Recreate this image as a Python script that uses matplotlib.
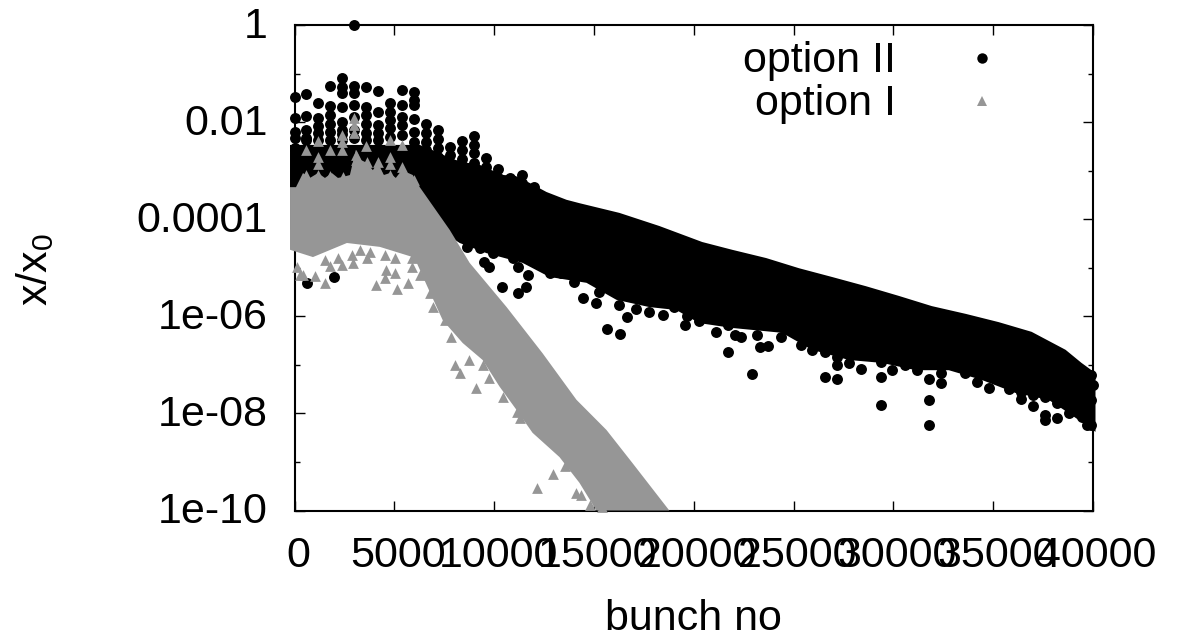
# plot.py
# Two options of x/x0 against bunch number, log scale, gnuplot look.
# The solid parts of each cloud are drawn as a filled outline,
# the points that stand out are drawn one by one.

import numpy as np
import matplotlib
matplotlib.use("Agg")
import matplotlib.pyplot as plt
from matplotlib.transforms import ScaledTranslation

plt.rcParams["font.family"] = ["Liberation Sans", "DejaVu Sans"]
plt.rcParams["mathtext.fontset"] = "custom"
plt.rcParams["mathtext.rm"] = "Liberation Sans"

# All log values are log10(x/x0)

# option II, outline of the solid cloud
black_upper_x = [-225, 6275, 6875, 7475, 8075, 8675, 9275, 9875, 10475, 11075, 11675, 12625, 13625, 14275,
                 16275, 18275, 20425, 21925, 23625, 25275, 26925, 28625, 30275, 31925, 33625, 35275, 36925,
                 38625, 39425, 40125]
black_upper_log = [-2.47, -2.47, -2.57, -2.68, -2.78, -2.84, -2.88, -2.99, -3.09, -3.11, -3.23, -3.44, -3.60, -3.67,
                   -3.87, -4.14, -4.47, -4.63, -4.80, -5.01, -5.19, -5.38, -5.58, -5.79, -5.95, -6.12, -6.32,
                   -6.69, -6.96, -7.17]
black_lower_x = [-225, 7275, 8275, 9625, 11425, 12775, 14625, 16125, 17775, 19125, 20275, 21925, 24425, 25925,
                 27775, 29425, 31125, 32775, 34425, 36125, 37775, 38775, 40125]
black_lower_log = [-4.22, -4.22, -4.49, -4.70, -4.90, -5.19, -5.31, -5.66, -5.81, -5.87, -6.14, -6.24, -6.34, -6.69,
                   -6.90, -6.96, -7.11, -7.11, -7.31, -7.58, -7.72, -7.99, -8.38]

# option II, single points above the cloud
black_top_x = [0, 0, 0, 0, 0, 600, 600, 600, 600, 600, 1200, 1200, 1200, 1200, 1200,
               1800, 1800, 1800, 1800, 1800, 1800, 2400, 2400, 2400, 2400, 2400, 2400, 2400, 2400,
               3000, 3000, 3000, 3000, 3000, 3000, 3000, 3600, 3600, 3600, 3600, 3600, 3600,
               4200, 4200, 4200, 4200, 4200, 4800, 4800, 4800, 4800, 4800,
               5400, 5400, 5400, 5400, 5400, 6000, 6000, 6000, 6000, 6000, 6000,
               6600, 6600, 6600, 6600, 6600, 7200, 7200, 7200, 7200, 7200,
               7800, 7800, 7800, 7800, 8400, 8400, 8400, 8400,
               9000, 9000, 9000, 9000, 9000, 9600, 9600, 9600,
               10200, 10200, 10800, 10800, 11400, 11400, 12000, 12000]
black_top_log = [-1.49, -1.92, -2.20, -2.33, -2.54, -1.42, -1.87, -2.16, -2.33, -2.37, -1.61, -1.92, -2.09, -2.22, -2.37,
                 -1.26, -1.67, -1.85, -2.03, -2.20, -2.37, -1.10, -1.27, -1.41, -1.68, -1.99, -2.16, -2.25, -2.37,
                 0.0, -1.26, -1.41, -1.65, -1.89, -2.16, -2.33, -1.28, -1.68, -1.85, -2.03, -2.23, -2.37,
                 -1.36, -1.79, -2.06, -2.23, -2.37, -1.60, -1.79, -1.96, -2.13, -2.30,
                 -1.33, -1.65, -1.89, -2.06, -2.27, -1.37, -1.54, -1.65, -1.94, -2.20, -2.40,
                 -2.03, -2.22, -2.40, -2.57, -2.75, -2.16, -2.35, -2.54, -2.71, -2.88,
                 -2.51, -2.68, -2.85, -3.02, -2.39, -2.57, -2.75, -2.92,
                 -2.28, -2.47, -2.64, -2.85, -3.02, -2.73, -2.92, -3.09,
                 -2.97, -3.16, -3.16, -3.33, -3.09, -3.26, -3.33, -3.50]

# option II, single points below the cloud
black_low_x = [625, 1975, 9475, 9725, 10375, 11175, 11575, 11675, 11175, 12775, 13375, 14025, 14475, 15125,
               16275, 16675, 17125, 17775, 18475, 15675, 16325, 19575, 19675, 19025, 20275, 21125, 21725, 21725,
               22075, 22375, 22925, 23175, 23325, 23725, 24375, 25375, 25925, 26575, 26575, 27175, 27175, 27175,
               27775, 28375, 29375, 29375, 29375, 29925, 30575, 31175, 31775, 31775, 31775, 32375, 32375, 33575,
               34175, 34775, 35775, 36375, 36375, 36975, 36975, 37575, 37575, 37575, 38175, 38175, 38775, 39425,
               39675, 39875, 39875, 39975, 39875,
               8625, 9275, 9925, 10925, 12125, 15275]
black_low_log = [-5.31, -5.19, -4.88, -4.98, -5.40, -5.52, -5.40, -5.15, -4.98, -5.11, -5.11, -5.29, -5.62, -5.73,
                 -5.77, -6.01, -5.85, -5.91, -5.97, -6.26, -6.36, -6.18, -5.99, -5.81, -6.10, -6.32, -6.18, -6.74,
                 -6.39, -6.43, -7.19, -6.39, -6.63, -6.61, -6.43, -6.59, -6.69, -6.74, -7.25, -7.29, -7.00, -6.84,
                 -6.96, -7.09, -6.94, -7.25, -7.83, -7.11, -7.00, -7.11, -7.29, -7.72, -8.24, -7.37, -7.17, -7.17,
                 -7.35, -7.48, -7.50, -7.56, -7.70, -7.62, -7.85, -7.66, -8.03, -8.14, -7.79, -8.09, -7.99, -8.07,
                 -8.24, -8.24, -7.21, -7.42, -7.72,
                 -4.57, -4.59, -4.70, -4.80, -4.90, -5.50]

# option I, outline of the solid cloud
gray_upper_x = [-225, 75, 425, 775, 1175, 1525, 1875, 2175, 2425, 2775, 3075, 3325, 3625, 3925, 4175, 4475, 4775,
                5075, 5375, 5925, 6275, 7775, 8775, 10625, 12425, 14125, 15625, 16925, 18775]
gray_upper_log = [-3.34, -3.34, -3.05, -3.15, -3.05, -3.15, -3.05, -3.15, -3.13, -3.09, -2.57, -2.78, -2.84, -2.99,
                  -2.84, -3.09, -3.05, -3.15, -2.99, -3.09, -3.34, -4.22, -4.90, -5.81, -6.76, -7.72, -8.34,
                  -9.02, -10.0]
gray_lower_x = [-225, 925, 2625, 4275, 5925, 6125, 6625, 7425, 8425, 9425, 10275, 11125, 11925, 13275, 14275, 15125]
gray_lower_log = [-4.63, -4.78, -4.49, -4.57, -4.78, -4.90, -5.36, -6.08, -6.55, -6.90, -7.45, -7.93, -8.40, -8.90,
                  -9.43, -10.0]

# option I, single points outside the cloud
gray_x = [425, 1025, 1525, 1775, 2375, 2925, 3625, 4525, 4075, 4525, 4575, 5125, 5675, 5025, 5875, 6275, 6775, 6925,
          7525, 7825, 8025, 8275, 8725, 9075, 9425, 9725, 10425, 11125, 11275, 12925, 12125, 13575, 14125, 14375,
          14825, 15425,
          2975, 2975, 2975, 2375, 2375, 1175, 575, 1775, 2375, 3575, 4775, 5375, 1175, 1175, 3625, 4175, 4775,
          4775, 5375,
          575, 1175, 1775, 2425, 3075, 3075, 3625, 4175, 4775, 5375, 5975,
          125, 275, 1525, 2175, 2875, 3275, 3775, 5025, 5875]
gray_log = [-5.15, -5.17, -5.31, -4.96, -4.94, -4.90, -4.80, -4.74, -5.36, -5.21, -5.05, -5.44, -5.31, -5.11, -4.98,
            -5.15, -5.52, -5.81, -6.08, -6.43, -7.00, -7.17, -6.90, -7.48, -7.00, -7.27, -7.66, -7.97, -8.09, -9.25,
            -9.54, -9.08, -9.64, -9.68, -9.89, -9.93,
            -1.92, -2.06, -2.22, -2.27, -2.41, -2.39, -2.57, -2.57, -2.57, -2.49, -2.37, -2.47, -2.72, -2.86, -2.82,
            -2.82, -2.72, -2.86, -2.92,
            -3.09, -3.09, -3.11, -3.13, -2.68, -2.78, -2.95, -2.99, -3.09, -3.15, -3.19,
            -4.98, -5.15, -4.84, -4.80, -4.74, -4.63, -4.68, -4.80, -4.80]

x_ticks = [0, 5000, 10000, 15000, 20000, 25000, 30000, 35000, 40000]
y_ticks = [1, 1e-2, 1e-4, 1e-6, 1e-8, 1e-10]
y_minor_ticks = [1e-1, 1e-3, 1e-5, 1e-7, 1e-9]
y_tick_labels = ["1", "0.01", "0.0001", "1e-06", "1e-08", "1e-10"]

BLACK = "#000000"
GRAY = "#969696"
FONT_SIZE = 31

fig = plt.figure(figsize=(11.8, 6.37), dpi=100)
ax = fig.add_axes([294.5 / 1180, 1 - 510.5 / 637, 798.5 / 1180, 485.5 / 637])

# option II
outline_x = black_upper_x + black_lower_x[::-1]
outline_log = black_upper_log + black_lower_log[::-1]
ax.fill(outline_x, 10.0 ** np.array(outline_log), color=BLACK, lw=0, zorder=3, clip_on=False)
ax.scatter(black_top_x, 10.0 ** np.array(black_top_log), s=62, marker="o", color=BLACK, linewidths=0,
           zorder=3, clip_on=False)
ax.scatter(black_low_x, 10.0 ** np.array(black_low_log), s=62, marker="o", color=BLACK, linewidths=0,
           zorder=3, clip_on=False)

# option I goes on top
outline_x = gray_upper_x + gray_lower_x[::-1]
outline_log = gray_upper_log + gray_lower_log[::-1]
ax.fill(outline_x, 10.0 ** np.array(outline_log), color=GRAY, lw=0, zorder=4, clip_on=False)
ax.scatter(gray_x, 10.0 ** np.array(gray_log), s=60, marker="^", color=GRAY, linewidths=0, zorder=4, clip_on=False)

ax.set_xlim(0, 40000)
ax.set_yscale("log")
ax.set_ylim(1e-10, 1)

ax.set_xticks(x_ticks)
ax.set_yticks(y_ticks)
ax.set_yticklabels(y_tick_labels)
ax.set_yticks(y_minor_ticks, minor=True)
ax.tick_params(axis="y", which="minor", labelleft=False)

ax.tick_params(axis="both", which="major", direction="in", top=True, right=True, length=7.2, width=1.0,
               labelsize=FONT_SIZE)
ax.tick_params(axis="y", which="minor", direction="in", left=True, right=True, length=3.6, width=1.0)
ax.tick_params(axis="y", which="major", pad=19)
ax.tick_params(axis="x", which="major", pad=18.5)

# the x labels sit a little right of their ticks, the y labels a little above
shift = ScaledTranslation(4 / 100, 0, fig.dpi_scale_trans)
for label in ax.get_xticklabels():
    label.set_transform(label.get_transform() + shift)
shift = ScaledTranslation(0, 3 / 100, fig.dpi_scale_trans)
for label in ax.get_yticklabels():
    label.set_transform(label.get_transform() + shift)

for spine in ax.spines.values():
    spine.set_linewidth(1.5)

ax.set_xlabel("bunch no", fontsize=FONT_SIZE, va="center")
ax.xaxis.set_label_coords((693 - 294.5) / 798.5, 1 - (619 - 25) / 485.5)
ax.set_ylabel("x/x$_{\\mathrm{0}}$", fontsize=FONT_SIZE, va="center")
ax.yaxis.set_label_coords((35 - 294.5) / 798.5, 1 - (270 - 25) / 485.5)

# legend placed by hand, text to the right edge and marker further out
ax.text(0.7533, 0.926, "option II", transform=ax.transAxes, ha="right", va="center", fontsize=FONT_SIZE, zorder=6)
ax.text(0.7533, 0.8375, "option I", transform=ax.transAxes, ha="right", va="center", fontsize=FONT_SIZE, zorder=6)
ax.plot([0.861], [0.932], transform=ax.transAxes, marker="o", ms=7.5, color=BLACK, mew=0, ls="none", zorder=6)
ax.plot([0.861], [0.8435], transform=ax.transAxes, marker="^", ms=7.5, color=GRAY, mew=0, ls="none", zorder=6)

fig.savefig("out.png", dpi=100)
